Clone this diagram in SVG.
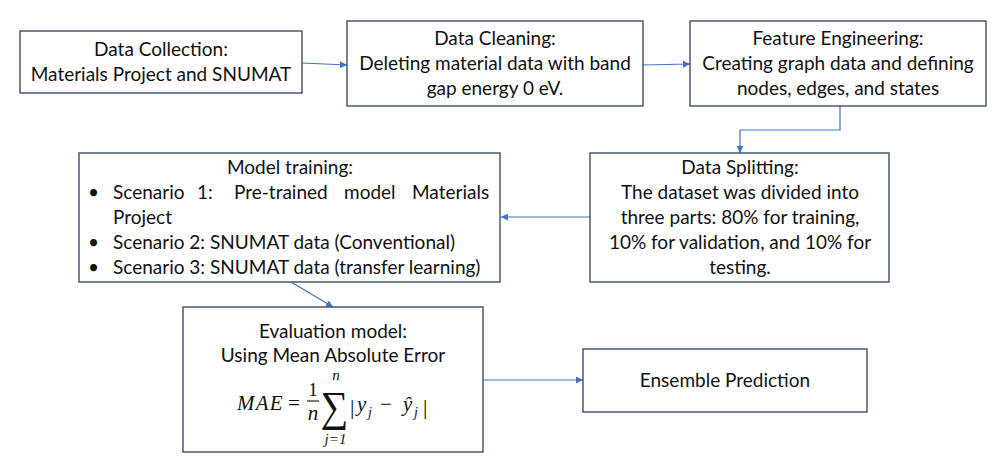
<svg xmlns="http://www.w3.org/2000/svg" width="999" height="457" viewBox="0 0 999 457">
<defs>
<style>
.box{fill:#fff;stroke:#2f3f5f;stroke-width:1.3}
.t{font-family:Lato,"Liberation Sans",sans-serif;font-size:19px;fill:#111;text-anchor:middle}
.l{font-family:Lato,"Liberation Sans",sans-serif;font-size:19px;fill:#111}
.m{font-family:"Liberation Serif","DejaVu Serif",serif;font-style:italic;fill:#111}
.mr{font-family:"Liberation Serif","DejaVu Serif",serif;fill:#111}
.c{fill:none;stroke:#4472c4;stroke-width:1.2}
</style>
<marker id="ah" viewBox="0 0 10 10" refX="10" refY="5" markerWidth="7" markerHeight="7" markerUnits="userSpaceOnUse" orient="auto">
<path d="M0,0 L10,5 L0,10 z" fill="#4472c4"/>
</marker>
</defs>
<rect width="999" height="457" fill="#fff"/>
<g id="connectors">
<path class="c" d="M302,63 L347,65" marker-end="url(#ah)"/>
<path class="c" d="M643,65 L690,64" marker-end="url(#ah)"/>
<path class="c" d="M840,106 L840,130 L740,130 L740,153" marker-end="url(#ah)"/>
<path class="c" d="M590,217 L501,217" marker-end="url(#ah)"/>
<path class="c" d="M291,282 L333,307" marker-end="url(#ah)"/>
<path class="c" d="M483,380 L583,380" marker-end="url(#ah)"/>
</g>
<g id="n1">
<rect class="box" x="20" y="31" width="282" height="62"/>
<text class="t" x="161" y="56">Data Collection:</text>
<text class="t" x="161" y="81">Materials Project and SNUMAT</text>
</g>
<g id="n2">
<rect class="box" x="347" y="21" width="296" height="85"/>
<text class="t" x="495" y="45">Data Cleaning:</text>
<text class="t" x="495" y="70">Deleting material data with band</text>
<text class="t" x="495" y="95">gap energy 0 eV.</text>
</g>
<g id="n3">
<rect class="box" x="690" y="21" width="296" height="85"/>
<text class="t" x="838" y="45">Feature Engineering:</text>
<text class="t" x="838" y="70">Creating graph data and defining</text>
<text class="t" x="838" y="95">nodes, edges, and states</text>
</g>
<g id="n4">
<rect class="box" x="590" y="153" width="299" height="129"/>
<text class="t" x="740" y="174">Data Splitting:</text>
<text class="t" x="740" y="199">The dataset was divided into</text>
<text class="t" x="740" y="224">three parts: 80% for training,</text>
<text class="t" x="740" y="249">10% for validation, and 10% for</text>
<text class="t" x="740" y="274">testing.</text>
</g>
<g id="n5">
<rect class="box" x="79" y="153" width="421" height="129"/>
<text class="t" x="290" y="174">Model training:</text>
<text class="l" x="88" y="199">•</text>
<text class="l" y="199"><tspan x="113">Scenario</tspan><tspan x="197">1:</tspan><tspan x="234">Pre-trained</tspan><tspan x="344">model</tspan><tspan x="412">Materials</tspan></text>
<text class="l" x="113" y="224">Project</text>
<text class="l" x="88" y="249">•</text>
<text class="l" x="113" y="249">Scenario 2: SNUMAT data (Conventional)</text>
<text class="l" x="88" y="274">•</text>
<text class="l" x="113" y="274">Scenario 3: SNUMAT data (transfer learning)</text>
</g>
<g id="n6">
<rect class="box" x="183" y="307" width="300" height="145"/>
<text class="t" x="333" y="338">Evaluation model:</text>
<text class="t" x="333" y="362">Using Mean Absolute Error</text>
<text class="m" x="237" y="410" font-size="21" letter-spacing="1.2">MAE</text>
<text class="mr" x="288" y="410" font-size="21">=</text>
<text class="mr" x="313" y="396" font-size="19" text-anchor="middle">1</text>
<line x1="307" y1="401" x2="319" y2="401" stroke="#111" stroke-width="1.1"/>
<text class="m" x="313" y="420" font-size="21" text-anchor="middle">n</text>
<text class="mr" font-size="30" text-anchor="middle" transform="translate(334.5,420.5) scale(1.3,1.43)">∑</text>
<text class="m" x="336" y="380" font-size="15" text-anchor="middle">n</text>
<text class="m" x="335.5" y="444" font-size="15" text-anchor="middle">j=1</text>
<text class="mr" x="350" y="414" font-size="22">|</text>
<text class="m" x="357" y="411" font-size="21">y</text>
<text class="m" x="368" y="417" font-size="14">j</text>
<text class="mr" x="380" y="411" font-size="21">−</text>
<text class="m" x="403" y="411" font-size="21">ŷ</text>
<text class="m" x="414" y="417" font-size="14">j</text>
<text class="mr" x="423" y="414" font-size="22">|</text>
</g>
<g id="n7">
<rect class="box" x="583" y="349" width="284" height="63"/>
<text class="t" x="725" y="387">Ensemble Prediction</text>
</g>
</svg>
